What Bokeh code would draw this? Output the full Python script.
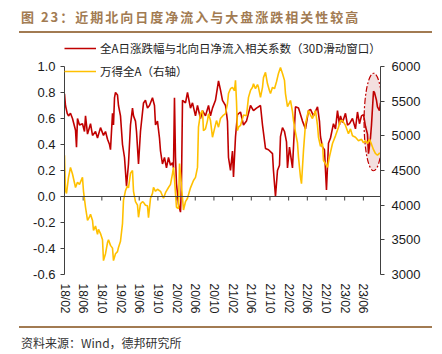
from bokeh.plotting import figure
from bokeh.models import (Range1d, LinearAxis, FixedTicker, NumeralTickFormatter,
                          Span, Legend, LegendItem, Div)
from bokeh.layouts import column
from bokeh.embed import file_html
from bokeh.resources import INLINE

# ---------------- data ----------------
TITLE = "图 23：近期北向日度净流入与大盘涨跌相关性较高"
SOURCE = "资料来源：Wind，德邦研究所"
NAME_CORR = "全A日涨跌幅与北向日净流入相关系数（30D滑动窗口）"
NAME_IDX = "万得全A（右轴）"

# x = months since 2018-02
tick_pos = [0, 4, 8, 12, 16, 20, 24, 28, 32, 36, 40, 44, 48, 52, 56, 60, 64]
tick_labels = ["18/02", "18/06", "18/10", "19/02", "19/06", "19/10", "20/02", "20/06",
               "20/10", "21/02", "21/06", "21/10", "22/02", "22/06", "22/10", "23/02", "23/06"]
left_ticks = [-0.6, -0.4, -0.2, 0.0, 0.2, 0.4, 0.6, 0.8, 1.0]
right_ticks = [3000, 3500, 4000, 4500, 5000, 5500, 6000]

corr_t = [0.00, 0.21, 0.58, 0.86, 1.28, 1.71, 2.36, 2.57, 2.78, 3.21,
          3.85, 4.28, 4.50, 4.93, 5.57, 6.00, 6.64, 7.07, 7.71, 8.35,
          8.78, 9.21, 9.64, 9.85, 10.28, 10.49, 10.71, 10.92, 11.35, 11.56,
          11.99, 12.42, 12.85, 13.28, 13.70, 14.13, 14.56, 14.78, 15.20, 15.42,
          15.85, 16.27, 16.92, 17.34, 17.77, 18.20, 18.84, 19.27, 19.49, 19.91,
          20.34, 20.56, 20.98, 21.41, 21.84, 22.27, 22.70, 23.13, 23.34, 23.55,
          23.77, 23.98, 24.41, 24.84, 25.05, 25.27, 25.91, 26.34, 26.98, 27.41,
          28.05, 28.48, 29.12, 29.55, 30.19, 30.84, 31.26, 31.69, 32.33, 32.98,
          33.40, 33.83, 34.48, 34.90, 35.12, 35.55, 35.97, 36.19, 36.62, 37.04,
          37.69, 38.33, 38.97, 39.83, 40.47, 41.11, 41.97, 42.40, 43.04, 43.68,
          44.54, 44.75, 45.18, 45.61, 46.04, 46.25, 46.68, 47.11, 47.54, 47.75,
          48.18, 48.82, 49.46, 50.11, 50.96, 51.61, 52.25, 52.68, 53.32, 54.18,
          54.60, 54.82, 55.25, 55.67, 56.10, 56.53, 56.96, 57.60, 58.03, 58.46,
          58.89, 59.10, 59.53, 60.17, 60.60, 61.03, 61.67, 62.31, 62.74, 63.17,
          63.60, 64.03, 64.45, 64.88, 65.10, 65.52, 65.74, 66.17, 66.38, 66.81,
          67.02, 67.45, 67.67]
corr_v = [0.79, 0.70, 0.64, 0.62, 0.64, 0.60, 0.51, 0.38, 0.60, 0.55,
          0.56, 0.50, 0.62, 0.48, 0.56, 0.47, 0.50, 0.45, 0.53, 0.47,
          0.50, 0.44, 0.40, 0.36, 0.64, 0.55, 0.76, 0.80, 0.78, 0.70,
          0.62, 0.40, 0.30, 0.08, 0.25, 0.55, 0.68, 0.62, 0.58, 0.50,
          0.25, 0.50, 0.72, 0.74, 0.68, 0.70, 0.76, 0.70, 0.55, 0.58,
          0.45, 0.35, 0.25, 0.30, 0.22, 0.30, 0.24, 0.26, 0.22, 0.76,
          0.30, 0.10, -0.06, -0.12, 0.10, 0.74, 0.72, 0.80, 0.68, 0.72,
          0.62, 0.70, 0.60, 0.66, 0.62, 0.70, 0.62, 0.68, 0.74, 0.89,
          0.82, 0.74, 0.70, 0.58, 0.30, 0.20, 0.35, 0.15, 0.46, 0.63,
          0.65, 0.55, 0.58, 0.70, 0.66, 0.68, 0.70, 0.55, 0.37, 0.36,
          0.33, 0.20, 0.00, 0.20, 0.24, 0.46, 0.53, 0.50, 0.42, 0.22,
          0.38, 0.22, 0.69, 0.68, 0.58, 0.52, 0.66, 0.67, 0.62, 0.69,
          0.58, 0.46, 0.38, 0.36, 0.05, 0.41, 0.45, 0.56, 0.52, 0.66,
          0.55, 0.62, 0.57, 0.64, 0.55, 0.56, 0.60, 0.52, 0.65, 0.56,
          0.62, 0.63, 0.54, 0.48, 0.33, 0.45, 0.55, 0.81, 0.80, 0.74,
          0.69, 0.66, 0.72]

idx_t = [0.00, 0.21, 0.43, 0.86, 1.28, 1.71, 2.36, 2.78, 3.21, 3.85,
         4.07, 4.50, 4.93, 5.35, 5.57, 6.00, 6.21, 6.64, 7.07, 7.28,
         7.71, 8.14, 8.35, 8.78, 9.21, 9.42, 9.85, 10.28, 10.49, 10.92,
         11.35, 11.56, 11.99, 12.42, 12.63, 13.06, 13.49, 13.70, 14.13, 14.56,
         14.78, 15.20, 15.63, 15.85, 16.27, 16.70, 16.92, 17.34, 17.77, 17.99,
         18.42, 18.84, 19.06, 19.49, 19.91, 20.56, 21.20, 21.63, 22.27, 22.70,
         23.13, 23.34, 23.55, 23.98, 24.41, 24.63, 24.84, 25.27, 25.48, 25.91,
         26.34, 26.98, 27.62, 28.05, 28.48, 28.69, 29.12, 29.55, 29.76, 30.19,
         30.62, 30.84, 31.26, 31.69, 32.12, 32.55, 32.98, 33.40, 34.05, 34.48,
         34.90, 35.12, 35.55, 35.97, 36.40, 36.62, 36.83, 37.04, 37.26, 37.69,
         38.33, 38.97, 39.40, 39.83, 40.26, 40.47, 40.90, 41.33, 41.54, 41.97,
         42.40, 42.61, 43.04, 43.47, 43.90, 44.11, 44.54, 44.97, 45.40, 45.82,
         46.25, 46.68, 47.11, 47.32, 47.75, 48.18, 48.39, 48.82, 49.04, 49.46,
         49.89, 50.11, 50.54, 50.75, 51.18, 51.61, 52.03, 52.25, 52.68, 53.10,
         53.75, 54.18, 54.39, 54.82, 55.25, 55.46, 55.89, 56.32, 56.75, 57.39,
         58.03, 58.67, 59.10, 59.53, 60.17, 60.81, 61.24, 61.67, 62.31, 62.96,
         63.60, 64.03, 64.45, 64.88, 65.31, 65.74, 66.17, 66.60, 67.02, 67.45,
         67.67]
idx_v = [4720, 4210, 4170, 4400, 4545, 4450, 4255, 4330, 4300, 4400,
         4200, 3970, 3780, 3830, 3870, 3780, 3635, 3700, 3580, 3650,
         3590, 3500, 3200, 3300, 3460, 3500, 3420, 3380, 3200, 3300,
         3330, 3390, 3480, 3735, 4070, 4210, 4280, 4250, 4460, 4500,
         4200, 4050, 4000, 3825, 4020, 4050, 4040, 4000, 3990, 3820,
         4100, 4170, 4255, 4200, 4230, 4200, 4100, 4180, 4255, 4300,
         4455, 4545, 4380, 3970, 3950, 4600, 4450, 4100, 3930, 4050,
         4100, 4250, 4355, 4400, 4545, 5125, 5320, 5365, 5075, 5100,
         5220, 5320, 5220, 4980, 5100, 5220, 5125, 5250, 5300, 5320,
         5465, 5610, 5680, 5700, 5650, 5800, 5500, 5075, 5125, 5150,
         5300, 5290, 5555, 5655, 5700, 5750, 5680, 5740, 5700, 5555,
         5700, 5840, 5915, 5750, 5650, 5610, 5700, 5680, 5780, 5900,
         5985, 5900, 5800, 5610, 5420, 5480, 5510, 5350, 5220, 5050,
         4900, 4690, 4400, 4310, 4790, 5175, 5300, 5365, 5300, 5250,
         5365, 5150, 4980, 4850, 4890, 4645, 4600, 4545, 4700, 4890,
         5000, 5125, 5220, 5220, 5150, 5030, 5100, 5000, 4980, 4930,
         4950, 4900, 4930, 4890, 4950, 4880, 4800, 4745, 4720, 4750,
         4745]

# highlight ellipse (recent window)
HL_X, HL_Y, HL_W, HL_H = 66.2, 0.573, 4.1, 0.75

# ---------------- styles ----------------
RED = "#C00000"
GOLD = "#FFC000"
BROWN = "#A27B52"
AXIS = "#404040"
NUM_FONT = "Liberation Sans"
CJK_FONT = "Noto Sans CJK SC"

p = figure(width=442, height=286, x_range=Range1d(0, 67.67), y_range=Range1d(-0.6, 1.2),
           output_backend="svg", toolbar_location=None,
           x_axis_type=None, y_axis_type=None,
           min_border_left=64, min_border_right=62, min_border_top=4, min_border_bottom=48)
p.outline_line_color = None
p.background_fill_color = "white"
p.border_fill_color = "white"
p.extra_y_ranges = {"idx": Range1d(3000, 6375)}

yl = LinearAxis(ticker=FixedTicker(ticks=left_ticks), formatter=NumeralTickFormatter(format="0.0"),
                bounds=(-0.6, 1.0))
yr = LinearAxis(y_range_name="idx", ticker=FixedTicker(ticks=right_ticks),
                formatter=NumeralTickFormatter(format="0"), bounds=(3000, 6000))
for ax, st in ((yl, 5), (yr, 7)):
    ax.axis_line_color = AXIS
    ax.major_tick_line_color = AXIS
    ax.major_tick_out = 4
    ax.major_tick_in = 0
    ax.minor_tick_line_color = None
    ax.major_label_text_font = NUM_FONT
    ax.major_label_text_font_size = "13px"
    ax.major_label_text_color = "#1a1a1a"
    ax.major_label_standoff = st
p.add_layout(yl, "left")
p.add_layout(yr, "right")

xb = LinearAxis(ticker=FixedTicker(ticks=tick_pos),
                major_label_overrides={k: v for k, v in zip(tick_pos, tick_labels)},
                major_label_orientation="vertical")
xb.axis_line_color = None
xb.major_tick_line_color = None
xb.minor_tick_line_color = None
xb.major_tick_out = 0
xb.major_tick_in = 0
xb.major_label_standoff = 9
xb.major_label_text_font = NUM_FONT
xb.major_label_text_font_size = "12px"
xb.major_label_text_color = "#1a1a1a"
p.add_layout(xb, "below")

# highlight ellipse behind the lines
p.ellipse(x=[HL_X], y=[HL_Y], width=[HL_W], height=[HL_H],
          fill_color="#F2DCDB", fill_alpha=0.9, line_color=RED,
          line_dash="6 2 2 2", line_width=1.2)

# zero line with small ticks
p.add_layout(Span(location=0, dimension="width", line_color=AXIS, line_width=1))
p.segment(x0=tick_pos, y0=[0] * len(tick_pos), x1=tick_pos, y1=[-0.031] * len(tick_pos),
          line_color=AXIS, line_width=1)

r_corr = p.line(corr_t, corr_v, line_color=RED, line_width=1.6)
r_idx = p.line(idx_t, idx_v, line_color=GOLD, line_width=1.6, y_range_name="idx")

legend = Legend(items=[LegendItem(label=NAME_CORR, renderers=[r_corr]),
                       LegendItem(label=NAME_IDX, renderers=[r_idx])],
                location="top_left")
legend.label_text_font = CJK_FONT
legend.label_text_font_size = "11.5px"
legend.label_text_color = "#222222"
legend.background_fill_alpha = 0
legend.border_line_color = None
legend.glyph_width = 32
legend.glyph_height = 16
legend.label_height = 16
legend.spacing = 7
legend.padding = 1
legend.margin = 0
legend.label_standoff = 4
p.add_layout(legend)

title_div = Div(width=442, height=36, margin=0, text=(
    '<div style="position:relative;width:442px;height:36px;">'
    f'<div style="position:absolute;left:21px;top:7px;white-space:nowrap;font-family:\'{CJK_FONT}\';'
    f'font-weight:bold;font-size:13px;letter-spacing:2px;line-height:20px;color:{BROWN};">{TITLE}</div>'
    f'<div style="position:absolute;left:19px;top:31px;width:413px;height:2px;background:{BROWN};"></div>'
    '</div>'))

source_div = Div(width=442, height=32, margin=0, text=(
    '<div style="position:relative;width:442px;height:32px;">'
    f'<div style="position:absolute;left:19px;top:4px;width:413px;height:2px;background:{BROWN};"></div>'
    f'<div style="position:absolute;left:21px;top:12px;white-space:nowrap;font-family:\'{CJK_FONT}\';'
    f'font-size:12px;line-height:18px;color:#333333;">{SOURCE}</div>'
    '</div>'))

layout = column(title_div, p, source_div, spacing=0)

open("out.html", "w").write(file_html(layout, INLINE))
